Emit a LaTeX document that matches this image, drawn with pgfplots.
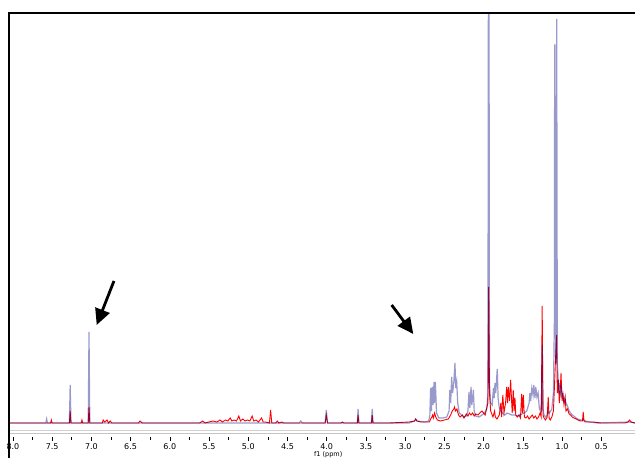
\documentclass[border=0pt]{standalone}
\usepackage{pgfplots}
\pgfplotsset{compat=1.18}
\usepackage{fontspec}
\setmainfont{DejaVu Sans}
\usetikzlibrary{arrows.meta,calc}
\definecolor{specred}{RGB}{255,0,0}
\definecolor{specnavy}{RGB}{0,0,128}
\begin{document}
\begin{tikzpicture}
\begin{axis}[
  name=ax,
  scale only axis,
  width=626pt, height=424pt,
  xmin=0.07, xmax=8.05, x dir=reverse,
  ymin=-14, ymax=410,
  axis x line=bottom,
  axis y line=none,
  axis line style={draw=none},
  xtick={0.5,1.0,1.5,2.0,2.5,3.0,3.5,4.0,4.5,5.0,5.5,6.0,6.5,7.0,7.5,8.0},
  minor x tick num=1,
  tick align=outside,
  major tick length=3.5pt,
  minor tick length=3pt,
  tick style={black, line width=0.6pt},
  xticklabel style={/pgf/number format/fixed, /pgf/number format/fixed zerofill, /pgf/number format/precision=1, font=\fontsize{8}{9}\selectfont, inner sep=1pt, yshift=-2pt},
  /pgf/number format/assume math mode=true,
  clip=true,
]
\draw[gray!35, line width=1pt] (axis cs:8.05,-7) -- (axis cs:0.07,-7);
\draw[gray!45, line width=1pt] (axis cs:8.05,-10) -- (axis cs:0.07,-10);
% red spectrum
\addplot[specred, line width=0.9pt] coordinates {
(8.05,0) (7.60,0) (7.52,0) (7.51,3) (7.50,0)
(7.28,0) (7.27,12) (7.26,0)
(7.13,0) (7.12,3) (7.11,0)
(7.04,0) (7.03,16) (7.02,0)
(6.86,0) (6.85,3) (6.83,1) (6.80,3) (6.78,0) (6.76,2) (6.74,0)
(6.40,0) (6.38,2) (6.35,0)
(5.62,0) (5.58,2) (5.55,0) (5.50,1) (5.45,2) (5.40,1) (5.36,3) (5.33,1) (5.29,3) (5.26,2) (5.23,5) (5.21,2) (5.18,3) (5.15,2) (5.12,7) (5.10,2) (5.07,4) (5.04,2) (5.01,3) (4.98,2) (4.95,7) (4.93,2) (4.90,3) (4.87,1) (4.83,5) (4.81,1) (4.78,1) (4.73,0) (4.715,13) (4.70,0) (4.65,0) (4.63,2) (4.61,0) (4.57,1) (4.55,0)
(4.02,0) (4.005,8) (3.99,0)
(3.82,0) (3.80,1) (3.78,0)
(3.61,0) (3.60,8) (3.59,0)
(3.43,0) (3.42,8) (3.41,0)
(3.20,0) (2.95,1) (2.88,2) (2.866,4) (2.85,2) (2.80,1) (2.72,1)
(2.69,1) (2.675,4) (2.66,6) (2.65,8) (2.64,5) (2.625,10) (2.61,6) (2.59,3) (2.55,2) (2.50,3) (2.45,4) (2.42,8) (2.40,12) (2.38,14) (2.37,16) (2.36,12) (2.34,14) (2.32,8) (2.30,6) (2.27,8) (2.25,5) (2.22,9) (2.20,7) (2.18,10) (2.16,8) (2.14,10) (2.12,7) (2.10,9) (2.07,8) (2.05,10) (2.02,12) (2.00,10) (1.98,8) (1.96,15) (1.945,20) (1.935,136) (1.925,30) (1.91,12) (1.90,10) (1.88,6) (1.86,12) (1.85,6) (1.83,4) (1.80,8) (1.78,20) (1.77,6) (1.755,28) (1.74,10) (1.72,20) (1.706,36) (1.695,20) (1.685,36) (1.67,22) (1.655,43) (1.645,25) (1.635,10) (1.622,33) (1.61,12) (1.60,25) (1.59,8) (1.57,6) (1.55,8) (1.53,5) (1.515,29) (1.505,10) (1.494,28) (1.48,6) (1.46,5) (1.44,7) (1.42,4) (1.40,6) (1.38,8) (1.36,5) (1.34,7) (1.32,4) (1.30,6) (1.28,10) (1.265,6) (1.253,117) (1.243,8) (1.23,5) (1.21,3) (1.19,6) (1.176,26) (1.165,5) (1.15,3) (1.13,6) (1.11,12) (1.095,40) (1.085,60) (1.07,88) (1.06,30) (1.047,43) (1.035,20) (1.025,30) (1.013,50) (1.00,22) (0.99,30) (0.975,18) (0.96,26) (0.95,12) (0.93,14) (0.91,9) (0.89,8) (0.87,6) (0.85,5) (0.82,4) (0.80,3) (0.76,2) (0.74,2) (0.73,11) (0.72,2) (0.70,1) (0.65,1) (0.60,1) (0.50,0) (0.40,0) (0.20,0) (0.16,1) (0.14,3) (0.12,1) (0.07,0)
};
% purple spectrum
\addplot[specnavy, opacity=0.4, line width=1.2pt] coordinates {
(8.05,0) (7.58,0) (7.57,4) (7.56,0) (7.28,0) (7.27,38) (7.26,0) (7.04,0) (7.03,91) (7.02,0)
(4.35,0) (4.33,2) (4.31,0) (4.02,0) (4.005,13) (3.99,0) (3.61,0) (3.60,14) (3.59,0) (3.43,0) (3.42,14) (3.41,0)
(2.95,0) (2.88,2) (2.866,4) (2.85,2) (2.75,1) (2.70,2) (2.685,8) (2.675,35) (2.665,12) (2.654,36) (2.645,18) (2.632,41) (2.625,20) (2.615,41) (2.60,10) (2.57,5) (2.52,5) (2.47,6) (2.44,12) (2.43,33) (2.42,20) (2.407,46) (2.395,30) (2.38,40) (2.365,60) (2.355,35) (2.343,41) (2.33,20) (2.31,10) (2.28,8) (2.25,6) (2.22,7) (2.20,12) (2.186,31) (2.175,15) (2.16,36) (2.15,18) (2.13,33) (2.12,12) (2.10,7) (2.06,6) (2.02,8) (1.99,10) (1.96,14) (1.945,30) (1.935,700) (1.925,40) (1.91,20) (1.89,18) (1.875,35) (1.865,25) (1.855,40) (1.845,30) (1.826,54) (1.815,25) (1.80,15) (1.78,12) (1.76,10) (1.73,8) (1.70,10) (1.67,9) (1.64,8) (1.60,8) (1.57,7) (1.54,8) (1.51,9) (1.48,10) (1.45,12) (1.42,20) (1.41,30) (1.40,22) (1.385,35) (1.37,28) (1.36,38) (1.345,25) (1.335,36) (1.32,26) (1.305,30) (1.29,15) (1.275,12) (1.262,20) (1.253,78) (1.243,15) (1.23,8) (1.21,6) (1.19,8) (1.176,12) (1.16,10) (1.13,14) (1.11,30) (1.098,100) (1.094,378) (1.09,378) (1.08,60) (1.074,80) (1.068,404) (1.06,60) (1.05,45) (1.04,30) (1.03,40) (1.02,30) (1.01,35) (1.00,28) (0.99,30) (0.98,22) (0.965,25) (0.95,20) (0.93,17) (0.91,12) (0.89,10) (0.87,8) (0.85,7) (0.82,5) (0.80,4) (0.76,3) (0.73,3) (0.70,2) (0.65,1) (0.55,0) (0.14,1) (0.07,0)
};
\draw[black, line width=2.8pt, -{Triangle[length=16pt,width=15pt]}] (axis cs:6.712,142) -- (axis cs:6.932,98);
\draw[black, line width=2.8pt, -{Triangle[length=16pt,width=15pt]}] (axis cs:3.172,118) -- (axis cs:2.896,89);
\end{axis}
\path let \p1=(ax.south west), \p2=(ax.south east) in node[font=\fontsize{6.5}{7}\selectfont, anchor=north, inner sep=0pt] at ({\x1+(\x2-\x1)*(8.05-3.98)/7.98},{\y1-14.5pt}) {f1 (ppm)};
\draw[black, line width=2pt] ([yshift=-40pt]ax.south west) -- (ax.north west) -- ([xshift=10pt]ax.north east);
\pgfresetboundingbox
\path[use as bounding box] ([xshift=-9pt,yshift=-20pt]ax.south west) rectangle ([yshift=13pt]ax.north east);
\end{tikzpicture}
\end{document}
